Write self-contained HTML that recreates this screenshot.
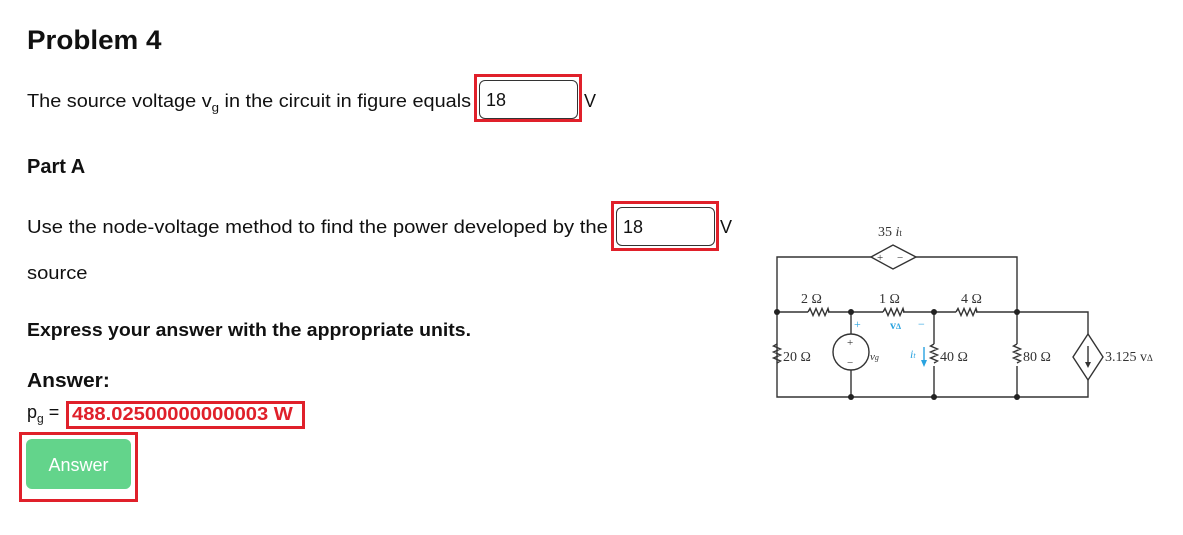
<!DOCTYPE html>
<html><head><meta charset="utf-8"><style>
body{margin:0;width:1183px;height:535px;background:#fff;font-family:"Liberation Sans",sans-serif;color:#111;position:relative;overflow:hidden}
.a{position:absolute;white-space:nowrap;transform-origin:0 0}
.t{font-size:18px}
.red{position:absolute;border:3px solid #e0202a;box-sizing:border-box}
.inp{position:absolute;border:1px solid #333;border-radius:6px;box-sizing:border-box;font-size:18px;padding:9px 0 0 6px}
</style></head><body>
<div class="a" style="left:27px;top:25px;font-size:27px;font-weight:bold;transform:scaleX(1.03)">Problem 4</div>
<div class="a t" style="left:27px;top:91px;transform:scaleX(1.105)">The source voltage v<sub style="font-size:12px">g</sub> in the circuit in figure equals</div>
<div class="red" style="left:474px;top:74px;width:108px;height:48px"></div>
<div class="inp" style="left:479px;top:80px;width:99px;height:39px">18</div>
<div class="a t" style="left:584px;top:91px">V</div>
<div class="a" style="left:27px;top:156px;font-size:20px;font-weight:bold">Part A</div>
<div class="a t" style="left:27px;top:217px;transform:scaleX(1.125)">Use the node-voltage method to find the power developed by the</div>
<div class="red" style="left:611px;top:201px;width:108px;height:50px"></div>
<div class="inp" style="left:616px;top:207px;width:99px;height:39px">18</div>
<div class="a t" style="left:720px;top:217px">V</div>
<div class="a t" style="left:27px;top:263px;transform:scaleX(1.12)">source</div>
<div class="a" style="left:27px;top:320px;font-size:18px;font-weight:bold;transform:scaleX(1.08)">Express your answer with the appropriate units.</div>
<div class="a" style="left:27px;top:370px;font-size:20px;font-weight:bold;transform:scaleX(1.05)">Answer:</div>
<div class="a t" style="left:27px;top:402px">p<sub style="font-size:12px">g</sub> =</div>
<div class="red" style="left:66px;top:401px;width:239px;height:28px"></div>
<div class="a" style="left:72px;top:404px;font-size:18px;font-weight:bold;color:#e0202a;transform:scaleX(1.12)">488.02500000000003 W</div>
<div class="red" style="left:19px;top:432px;width:119px;height:70px"></div>
<div class="a" style="left:26px;top:439px;width:105px;height:50px;background:#63d48b;border-radius:6px;color:#fff;font-size:18px;text-align:center;line-height:52px">Answer</div>
<svg class="a" style="left:0;top:0" width="1183" height="535" font-family="Liberation Serif,serif">
<g stroke="#333" stroke-width="1.4" fill="none">
<path d="M777 312V257H871M916 257H1017V312M777 312H808M828 312H883M903 312H956M976 312H1088V334M1088 380V397H777V312"/>
<path d="M808 312l2-3.5 3 7 3-7 3 7 3-7 3 7 3-7 1 3.5M883 312l2-3.5 3 7 3-7 3 7 3-7 3 7 3-7 1 3.5M956 312l2-3.5 3 7 3-7 3 7 3-7 3 7 3-7 1 3.5"/>
<path d="M851 312V334M851 370V397M934 312V344M934 366V397M1017 312V344M1017 366V397"/>
<path d="M777 344l-3.5 2 7 3-7 3 7 3-7 3 7 3-3.5 2M934 344l-3.5 2 7 3-7 3 7 3-7 3 7 3-3.5 2M1017 344l-3.5 2 7 3-7 3 7 3-7 3 7 3-3.5 2"/>
<path d="M871 257L893 245L916 257L893 269Z"/>
<path d="M1088 334L1103 357L1088 380L1073 357Z"/>
<circle cx="851" cy="352" r="18"/>
<path d="M1088 346V366"/>
</g>
<path d="M1085 362L1088 368L1091 362Z" fill="#333"/>
<g fill="#222"><circle cx="777" cy="312" r="3"/><circle cx="851" cy="312" r="3"/><circle cx="934" cy="312" r="3"/><circle cx="1017" cy="312" r="3"/><circle cx="851" cy="397" r="3"/><circle cx="934" cy="397" r="3"/><circle cx="1017" cy="397" r="3"/></g>
<g font-size="14" fill="#333">
<text x="878" y="236">35 <tspan font-style="italic">i</tspan><tspan font-size="9">t</tspan></text>
<text x="877" y="261" font-size="11">+</text><text x="897" y="261" font-size="11">−</text>
<text x="801" y="303">2 Ω</text><text x="879" y="303">1 Ω</text><text x="961" y="303">4 Ω</text>
<text x="783" y="361">20 Ω</text><text x="940" y="361">40 Ω</text><text x="1023" y="361">80 Ω</text>
<text x="1105" y="361">3.125 v<tspan font-size="9">Δ</tspan></text>
<text x="847" y="346" font-size="11">+</text><text x="847" y="366" font-size="11">−</text>
<text x="870" y="360" font-style="italic" font-size="11">v<tspan font-size="8">g</tspan></text>
</g>
<g fill="#29a3e0" font-size="12">
<text x="854" y="328">+</text><text x="890" y="329" font-weight="bold">v<tspan font-size="8">Δ</tspan></text><text x="918" y="328">−</text>
<text x="910" y="358" font-style="italic">i<tspan font-size="8">t</tspan></text>
<path d="M924 347V362" stroke="#29a3e0" stroke-width="1.4"/><path d="M921 360L924 367L927 360Z"/>
</g>
</svg>
</body></html>
